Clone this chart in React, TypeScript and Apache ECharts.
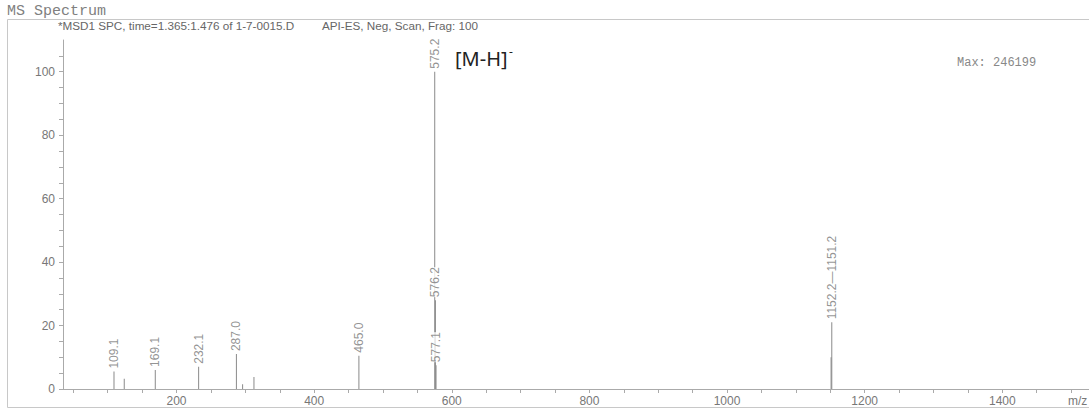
import React, { useEffect, useRef } from "react";
import * as echarts from "echarts";

// ---- data ----
const peakMz = [109.1, 124.0, 169.1, 232.1, 287.0, 296.0, 312.5, 465.0, 575.2, 576.2, 577.1, 1151.2, 1152.2];
const peakAbundance = [5.5, 3.2, 6.0, 7.0, 11.0, 1.5, 3.8, 10.5, 100, 28, 7.5, 10, 21];
const peakLabels = ["109.1", "", "169.1", "232.1", "287.0", "", "", "465.0", "575.2", "576.2", "577.1", "", "1152.2\u20141151.2"];

const xTickLabels = [200, 400, 600, 800, 1000, 1200, 1400];
const xMinorTicks = [50, 100, 150, 200, 250, 300, 350, 400, 450, 500, 550, 600, 650, 700, 750, 800, 850, 900, 950, 1000, 1050, 1100, 1150, 1200, 1250, 1300, 1350, 1400, 1450, 1500];
const yTickLabels = [0, 20, 40, 60, 80, 100];
const yMinorTicks = [0, 5, 10, 15, 20, 25, 30, 35, 40, 45, 50, 55, 60, 65, 70, 75, 80, 85, 90, 95, 100, 105];

const titleText = "MS Spectrum";
const subtitleLeft = "*MSD1 SPC, time=1.365:1.476 of 1-7-0015.D";
const subtitleRight = "API-ES, Neg, Scan, Frag: 100";
const maxText = "Max: 246199";
const ionText = "[M-H]";
const ionCharge = "-";
const axisUnit = "m/z";

export default function App() {
  const ref = useRef<HTMLDivElement>(null);
  useEffect(() => {
    const chart = echarts.init(ref.current!, null, { renderer: "svg" });
    const barData = peakMz.map((m, i) => [m, peakAbundance[i]]);
    const labelData = peakMz.map((m, i) => ({ value: [m, peakAbundance[i]], name: peakLabels[i] }));
    chart.setOption({
      animation: false,
      backgroundColor: "#ffffff",
      grid: { left: 63, right: 0, top: 40, bottom: 23 },
      xAxis: {
        type: "value",
        min: 35,
        max: 1526,
        axisLine: { show: true, lineStyle: { color: "#aaaaaa", width: 1 } },
        axisTick: { show: true, customValues: xMinorTicks, length: 4, lineStyle: { color: "#aaaaaa" } },
        axisLabel: {
          customValues: xTickLabels,
          formatter: (v: number) => String(v),
          color: "#777777",
          fontFamily: "Liberation Sans",
          fontSize: 12,
          margin: 6,
        },
        splitLine: { show: false },
      },
      yAxis: {
        type: "value",
        min: 0,
        max: 110,
        axisLine: { show: true, lineStyle: { color: "#aaaaaa", width: 1 } },
        axisTick: { show: true, customValues: yMinorTicks, length: 4, lineStyle: { color: "#aaaaaa" } },
        axisLabel: {
          customValues: yTickLabels,
          formatter: (v: number) => String(v),
          color: "#777777",
          fontFamily: "Liberation Sans",
          fontSize: 12,
          margin: 8,
        },
        splitLine: { show: false },
      },
      series: [
        {
          type: "bar",
          data: barData,
          barWidth: 1,
          itemStyle: { color: "#8a8a8a" },
          z: 2,
        },
        {
          type: "scatter",
          data: labelData,
          symbolSize: 0,
          z: 5,
          label: {
            show: true,
            position: "top",
            distance: 3,
            rotate: 90,
            align: "left",
            verticalAlign: "middle",
            formatter: (p: any) => p.name,
            color: "#777777",
            fontFamily: "Liberation Sans",
            fontSize: 12,
            backgroundColor: "#ffffff",
          },
        },
      ],
      graphic: [
        {
          type: "rect",
          shape: { x: 7.5, y: 19.5, width: 1200, height: 388 },
          style: { fill: "none", stroke: "#c8c8c8", lineWidth: 1 },
          silent: true,
        },
        {
          type: "text",
          x: 7,
          y: 11,
          style: { text: titleText, font: "15px 'Liberation Mono'", fill: "#808080", verticalAlign: "middle" },
        },
        {
          type: "text",
          x: 58,
          y: 25,
          style: { text: subtitleLeft, font: "11.7px 'Liberation Sans'", fill: "#666666", verticalAlign: "middle" },
        },
        {
          type: "text",
          x: 322,
          y: 25,
          style: { text: subtitleRight, font: "11.7px 'Liberation Sans'", fill: "#666666", verticalAlign: "middle" },
        },
        {
          type: "text",
          x: 957,
          y: 63,
          style: { text: maxText, font: "12px 'Liberation Mono'", fill: "#888888", verticalAlign: "middle" },
        },
        {
          type: "text",
          x: 455,
          y: 58,
          style: { text: ionText, font: "20px 'Noto Sans'", fill: "#222222", verticalAlign: "middle" },
        },
        {
          type: "text",
          x: 509,
          y: 51,
          style: { text: ionCharge, font: "12px 'Noto Sans'", fill: "#222222", verticalAlign: "middle" },
        },
        {
          type: "text",
          x: 1068,
          y: 401,
          style: { text: axisUnit, font: "12px 'Liberation Sans'", fill: "#777777", verticalAlign: "middle" },
        },
      ],
    });
    return () => chart.dispose();
  }, []);
  return (
    <div
      ref={ref}
      style={{ position: "absolute", left: 0, top: 0, width: 1089, height: 412, background: "#fff" }}
    />
  );
}
